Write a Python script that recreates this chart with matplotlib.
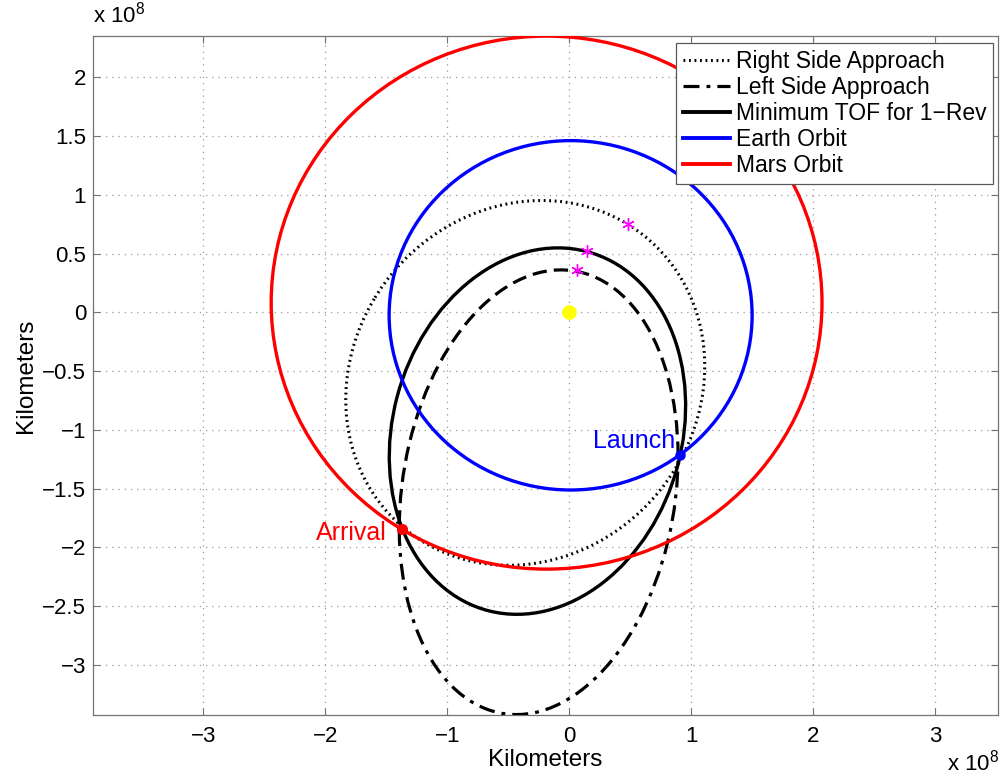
import numpy as np
import matplotlib
matplotlib.use('Agg')
import matplotlib.pyplot as plt
from matplotlib.patches import Ellipse, Arc
from matplotlib.lines import Line2D
from matplotlib.ticker import FuncFormatter

plt.rcParams['font.family'] = ['Liberation Sans', 'DejaVu Sans']
plt.rcParams['mathtext.fontset'] = 'custom'
plt.rcParams['mathtext.rm'] = 'Liberation Sans'

# positions in units of 1e8 km
sun = (0.0, 0.0)
launch = (0.91, -1.216)
arrival = (-1.37, -1.845)

# orbits: centre x, centre y, semi-axis a, semi-axis b, tilt (deg)
earth_orbit = (0.012, -0.025, 1.488, 1.486, 0.0)
mars_orbit = (-0.185, 0.083, 2.258, 2.267, 0.0)
right_side = (-0.36, -0.60, 1.59, 1.43, -120.0)
left_side = (-0.25, -1.53, 1.905, 1.12, -98.5)
min_tof = (-0.26, -1.01, 1.58, 1.187, -104.4)

# spacecraft marks on each transfer
mark_x = [0.484, 0.148, 0.066]
mark_y = [0.748, 0.520, 0.357]

xticks = [-3, -2, -1, 0, 1, 2, 3]
yticks = [-3, -2.5, -2, -1.5, -1, -0.5, 0, 0.5, 1, 1.5, 2]

dot_style = (0, (0.6, 1.2))
dashdot_style = (0, (5, 2.2, 1.2, 2.2))
dash_style = (0, (4.5, 2.2))


def frame_angle(pt, orb):
    cx, cy, a, b, ang = orb
    t = np.deg2rad(ang)
    dx, dy = pt[0] - cx, pt[1] - cy
    xr = dx * np.cos(t) + dy * np.sin(t)
    yr = -dx * np.sin(t) + dy * np.cos(t)
    return np.degrees(np.arctan2(yr, xr))


def orbit_patch(orb, **kw):
    cx, cy, a, b, ang = orb
    return Ellipse((cx, cy), 2 * a, 2 * b, angle=ang, fill=False, **kw)


def orbit_arc(orb, t1, t2, **kw):
    cx, cy, a, b, ang = orb
    return Arc((cx, cy), 2 * a, 2 * b, angle=ang, theta1=t1, theta2=t2, **kw)


def tick_fmt(v, pos):
    return ('%g' % v).replace('-', '\u2212')


fig = plt.figure(figsize=(10.05, 7.8), dpi=100)
ax = fig.add_axes([93 / 1005, 1 - 715 / 780, 905 / 1005, 679 / 780])

ax.add_patch(orbit_patch(right_side, edgecolor='k', lw=2.2, linestyle=dot_style, zorder=3))

# left side approach: transfer arc dashed, remainder dash-dot
thL = frame_angle(launch, left_side)
thA = frame_angle(arrival, left_side)
if thA < thL:
    thA_up = thA + 360
else:
    thA_up = thA
ax.add_patch(orbit_arc(left_side, thL, thA_up, color='k', lw=2.3, linestyle=dash_style, zorder=3))
ax.add_patch(orbit_arc(left_side, thA, thL, color='k', lw=2.3, linestyle=dashdot_style, zorder=3))

ax.add_patch(orbit_patch(min_tof, edgecolor='k', lw=2.4, zorder=3))
ax.add_patch(orbit_patch(earth_orbit, edgecolor='#0000ff', lw=2.4, zorder=4))
ax.add_patch(orbit_patch(mars_orbit, edgecolor='#ff0000', lw=2.4, zorder=4))

ax.plot(mark_x, mark_y, linestyle='none', marker=(6, 2, 0), color='#ff00ff',
        markersize=9, mew=1.0, zorder=5)
ax.plot(*sun, 'o', color='#ffff00', markersize=9.5, mec='#ffff00', zorder=5)
ax.plot(*launch, 'o', color='#0000ff', markersize=6.5, zorder=6)
ax.plot(*arrival, 'o', color='#ff0000', markersize=7, zorder=6)

ax.text(launch[0] - 0.04, launch[1] + 0.02, 'Launch', color='#0000ff', fontsize=18,
        ha='right', va='bottom')
ax.text(arrival[0] - 0.13, arrival[1] - 0.03, 'Arrival', color='#ff0000', fontsize=18,
        ha='right', va='center')

ax.set_xlim(-3.904, 3.516)
ax.set_ylim(-3.425, 2.351)
ax.set_xticks(xticks)
ax.set_yticks(yticks)
ax.xaxis.set_major_formatter(FuncFormatter(tick_fmt))
ax.yaxis.set_major_formatter(FuncFormatter(tick_fmt))
ax.tick_params(direction='in', top=True, right=True, length=5, width=0.8,
               color='0.45', labelsize=16, pad=5)
ax.tick_params(axis='x', pad=8)
for s in ax.spines.values():
    s.set_color('0.45')
    s.set_linewidth(0.9)
ax.grid(True, linestyle=(0, (1, 4)), color='0.6', linewidth=0.9)
ax.set_axisbelow(True)

ax.set_xlabel('Kilometers', fontsize=17.5, labelpad=1)
ax.set_ylabel('Kilometers', fontsize=17.5, labelpad=4)

ax.text(0.0, 1.012, r'x 10$^{8}$', transform=ax.transAxes, fontsize=16,
        ha='left', va='bottom')
fig.text(999 / 1005, 4 / 780, r'x 10$^{8}$', fontsize=16, ha='right', va='bottom')

handles = [
    Line2D([], [], color='k', lw=2.2, linestyle=dot_style),
    Line2D([], [], color='k', lw=2.3, linestyle=dashdot_style),
    Line2D([], [], color='k', lw=2.8),
    Line2D([], [], color='#0000ff', lw=2.8),
    Line2D([], [], color='#ff0000', lw=2.8),
]
labels = ['Right Side Approach', 'Left Side Approach', 'Minimum TOF for 1\u2212Rev',
          'Earth Orbit', 'Mars Orbit']
leg = ax.legend(handles, labels, loc='upper right', bbox_to_anchor=(0.995, 0.99),
                borderaxespad=0.0, fontsize=16.5, handlelength=2.05, handletextpad=0.26,
                labelspacing=0.14, borderpad=0.3, fancybox=False, framealpha=1)
leg.get_frame().set_edgecolor('0.35')
leg.get_frame().set_linewidth(0.9)
leg.set_zorder(10)

fig.savefig('out.png', dpi=100)
